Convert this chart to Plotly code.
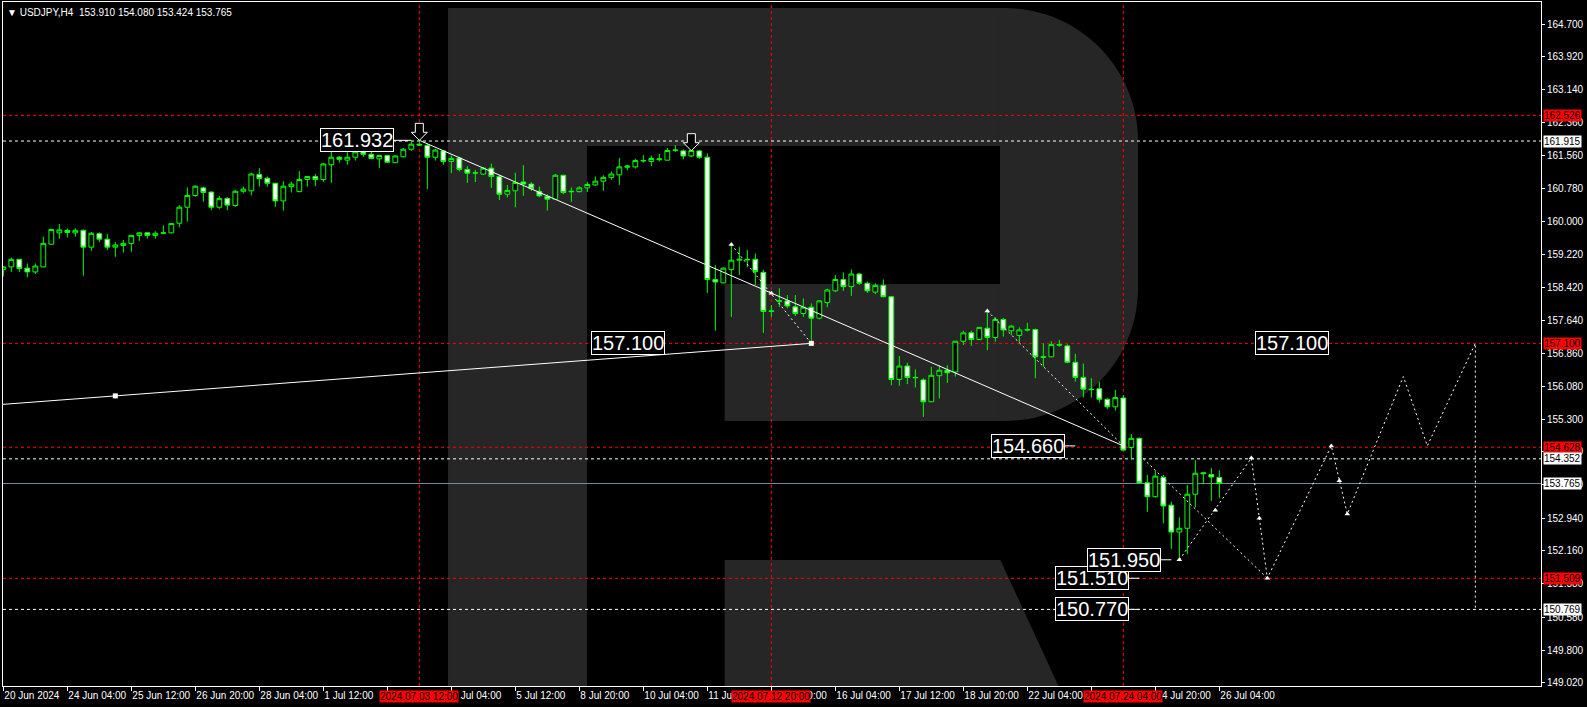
import plotly.graph_objects as go

# ---------------- DATA (USDJPY H4, bar 0 = 2024-06-20 20:00) ----------------
opens = [158.86,158.92,159.10,158.89,158.80,158.92,159.46,159.73,159.79,159.73,
         159.79,159.39,159.71,159.58,159.39,159.43,159.48,159.67,159.73,159.67,
         159.72,159.73,159.96,160.34,160.62,160.80,160.70,160.34,160.55,160.38,
         160.72,160.73,161.12,161.03,160.91,160.49,160.83,160.71,161.00,161.07,
         161.00,161.35,161.53,161.46,161.53,161.66,161.60,161.49,161.57,161.40,
         161.54,161.72,161.84,161.81,161.53,161.68,161.43,161.51,161.24,161.15,
         161.13,161.27,161.07,160.65,160.73,160.94,160.89,160.72,160.60,160.53,
         161.10,160.72,160.71,160.80,160.87,160.96,161.05,161.11,161.29,161.30,
         161.44,161.43,161.47,161.46,161.69,161.68,161.56,161.68,161.53,158.62,
         158.54,158.86,159.08,159.10,159.10,158.79,157.86,158.10,158.11,157.97,
         157.81,157.96,157.70,158.07,158.35,158.62,158.45,158.75,158.53,158.32,
         158.48,158.21,156.24,156.56,156.28,156.23,155.71,156.33,156.46,156.42,
         157.15,157.35,157.19,157.46,157.24,157.67,157.40,157.29,157.43,157.43,
         156.78,156.78,157.07,157.04,156.65,156.29,156.01,156.02,155.77,155.59,
         155.80,154.62,154.84,153.78,153.45,153.91,153.25,152.61,152.70,153.51,
         154.02,153.98,153.910]
highs = [158.94,159.14,159.11,159.00,159.00,159.64,159.83,159.94,159.83,159.84,
         159.81,159.75,159.74,159.70,159.51,159.56,159.68,159.75,159.75,159.77,
         159.91,159.96,160.39,160.81,160.86,160.83,160.72,160.61,160.58,160.75,
         160.83,161.16,161.27,161.07,160.92,160.96,160.95,161.20,161.08,161.13,
         161.40,161.72,161.56,161.65,161.74,161.74,161.68,161.59,161.59,161.57,
         161.75,161.90,161.932,161.84,161.73,161.70,161.57,161.54,161.32,161.23,
         161.29,161.38,161.11,160.87,161.16,161.34,160.94,160.83,160.65,161.13,
         161.11,160.81,160.84,160.94,161.07,161.10,161.19,161.51,161.35,161.49,
         161.58,161.57,161.61,161.75,161.82,161.72,161.72,161.70,161.62,158.96,
         158.91,159.48,159.39,159.32,159.24,158.85,158.01,158.41,158.25,158.25,
         158.17,158.05,158.13,158.40,158.73,158.79,158.86,158.78,158.57,158.53,
         158.62,158.23,156.80,156.64,156.48,156.27,156.54,156.58,156.58,157.16,
         157.40,157.40,157.49,157.85,157.72,157.70,157.54,157.48,157.59,157.45,
         157.10,157.15,157.18,157.08,156.85,156.62,156.27,156.19,155.79,155.99,
         155.87,154.94,154.86,153.97,154.07,153.97,153.33,152.96,153.73,154.32,
         154.03,154.13,154.080]
lows = [158.69,158.80,158.80,158.67,158.75,158.91,159.45,159.59,159.62,159.64,
        158.71,159.30,159.51,159.32,159.16,159.26,159.28,159.54,159.59,159.59,
        159.70,159.72,159.86,160.00,160.59,160.47,160.27,160.30,160.27,160.35,
        160.67,160.62,160.83,160.83,160.35,160.26,160.69,160.70,160.83,160.84,
        160.94,160.92,161.40,161.35,161.45,161.54,161.48,161.27,161.40,161.39,
        161.53,161.68,161.80,160.77,161.45,161.35,161.15,161.19,160.92,160.94,
        161.11,160.80,160.51,160.57,160.34,160.61,160.73,160.58,160.26,160.51,
        160.65,160.47,160.69,160.70,160.84,160.73,160.99,160.87,161.22,161.26,
        161.40,161.32,161.43,161.45,161.66,161.48,161.53,161.49,158.30,157.40,
        158.53,157.73,158.73,158.91,158.49,157.35,157.73,157.97,157.93,157.75,
        157.73,157.10,157.67,157.96,158.32,158.35,158.23,158.49,158.30,158.27,
        158.20,156.10,156.09,156.13,156.05,155.35,155.70,155.79,156.16,156.31,
        157.06,157.04,157.18,156.94,157.14,157.26,157.30,157.12,157.38,156.27,
        156.54,156.77,157.02,156.63,156.19,155.81,155.81,155.69,155.54,155.50,
        154.54,154.34,153.75,153.09,153.43,152.82,152.21,151.95,152.09,153.20,
        153.75,153.35,153.424]
closes = [158.92,159.10,158.88,158.80,158.94,159.48,159.81,159.80,159.74,159.79,
          159.39,159.72,159.58,159.39,159.44,159.48,159.67,159.73,159.67,159.72,
          159.73,159.95,160.34,160.62,160.84,160.69,160.34,160.55,160.39,160.72,
          160.77,161.13,161.02,160.91,160.49,160.84,160.89,161.00,161.07,161.00,
          161.37,161.53,161.48,161.53,161.66,161.60,161.50,161.57,161.41,161.56,
          161.72,161.84,161.82,161.53,161.70,161.43,161.50,161.24,161.15,161.16,
          161.27,161.07,160.65,160.74,160.93,160.89,160.78,160.61,160.53,161.10,
          160.69,160.71,160.80,160.88,160.96,161.05,161.13,161.30,161.32,161.45,
          161.45,161.50,161.49,161.69,161.70,161.56,161.69,161.53,158.62,158.56,
          158.89,159.08,159.10,159.09,158.81,157.86,157.87,158.11,157.99,157.81,
          157.96,157.70,158.11,158.37,158.62,158.45,158.75,158.53,158.35,158.48,
          158.21,156.24,156.56,156.29,156.29,155.71,156.34,156.46,156.40,157.15,
          157.35,157.19,157.48,157.24,157.67,157.42,157.51,157.42,157.42,156.78,
          156.77,157.07,157.06,156.65,156.29,156.01,156.00,155.77,155.59,155.81,
          154.56,154.84,153.78,153.45,153.94,153.23,152.61,152.70,153.51,154.01,
          154.00,153.92,153.765]
bars = list(range(len(opens)))

x_tick_bars = [0, 8, 16, 24, 32, 40, 48, 56, 64, 72, 80, 88, 96, 104, 112, 120, 128, 136, 144, 152]
x_tick_labels = ["20 Jun 2024", "24 Jun 04:00", "25 Jun 12:00", "26 Jun 20:00", "28 Jun 04:00",
                 "1 Jul 12:00", "2 Jul 20:00", "4 Jul 04:00", "5 Jul 12:00", "8 Jul 20:00",
                 "10 Jul 04:00", "11 Jul 12:00", "12 Jul 20:00", "16 Jul 04:00", "17 Jul 12:00",
                 "18 Jul 20:00", "22 Jul 04:00", "23 Jul 12:00", "24 Jul 20:00", "26 Jul 04:00"]
y_tick_vals = [164.700, 163.920, 163.140, 162.360, 161.560, 160.780, 160.000, 159.220, 158.420,
               157.640, 156.860, 156.080, 155.300, 154.520, 153.740, 152.940, 152.160, 151.380,
               150.580, 149.800, 149.020]

red_levels = [162.526, 157.100, 154.628, 151.509]
white_levels = [161.915, 154.352, 150.769]
bid_price = 153.765

vline_bars = [52, 96, 140]
vline_labels = ["2024.07.03 12:00", "2024.07.12 20:00", "2024.07.24 04:00"]

trend_main_x, trend_main_y = [52, 140], [161.932, 154.660]
ray_x, ray_y = [14, 101], [155.85, 157.10]
dot_a_x, dot_a_y = [91, 101], [159.45, 157.10]
dot_b_x, dot_b_y = [123, 140], [157.87, 154.66]
dot_c_x, dot_c_y = [142.5, 158], [154.352, 151.51]
zigzag_x = [147, 156, 158, 166, 168, 175, 178, 184, 184]
zigzag_y = [151.95, 154.37, 151.51, 154.66, 153.04, 156.31, 154.66, 157.10, 150.77]
marker_x = [91, 96, 123, 147, 151.5, 156, 157, 158, 166, 167, 168]
marker_y = [159.45, 158.29, 157.87, 151.95, 153.13, 154.37, 152.94, 151.51, 154.66, 153.83, 153.04]
arrow_bars = [52, 86]
arrow_prices = [161.932, 161.685]

box_texts = ["161.932", "157.100", "157.100", "154.660", "151.510", "150.770", "151.950"]
box_bars = [51, 78.1, 161.1, 134, 142, 142, 146]
box_prices = [161.932, 157.100, 157.100, 154.660, 151.510, 150.770, 151.950]
box_leader = [-54, None, None, -47, -47, -47, -47]

title_text = "▼ USDJPY,H4  153.910 154.080 153.424 153.765"

# ---------------- LAYOUT GEOMETRY ----------------
W, H = 1587, 707
PL, PR, PT, PB = 3, 1541, 2, 686
X0 = -0.041
X1 = X0 + (PR - PL) / 8.0
Y_TOP, Y_BOT = 165.2236, 148.946
GREEN = "#00FF00"
FONT = "Liberation Sans"


def ppx(x):
    return (x - PL) / (PR - PL)


def ppy(y):
    return (PB - y) / (PB - PT)


def pth(pts, closed=True):
    s = "M " + " L ".join(f"{ppx(x):.5f},{ppy(y):.5f}" for x, y in pts)
    return s + (" Z" if closed else "")


fig = go.Figure()

# candles
fig.add_trace(go.Candlestick(
    x=bars, open=opens, high=highs, low=lows, close=closes,
    increasing=dict(line=dict(color=GREEN, width=1), fillcolor="black"),
    decreasing=dict(line=dict(color=GREEN, width=1), fillcolor="white"),
    whiskerwidth=0, showlegend=False, hoverinfo="skip"))

# trend lines
slope = (ray_y[1] - ray_y[0]) / (ray_x[1] - ray_x[0])
ray_start_y = ray_y[0] + (X0 - ray_x[0]) * slope
fig.add_trace(go.Scatter(x=[X0] + ray_x, y=[ray_start_y] + ray_y, mode="lines",
                         line=dict(color="white", width=1), showlegend=False, hoverinfo="skip"))
fig.add_trace(go.Scatter(x=trend_main_x, y=trend_main_y, mode="lines",
                         line=dict(color="white", width=1), showlegend=False, hoverinfo="skip"))
for xs, ys in [(dot_a_x, dot_a_y), (dot_b_x, dot_b_y), (dot_c_x, dot_c_y), (zigzag_x, zigzag_y)]:
    fig.add_trace(go.Scatter(x=xs, y=ys, mode="lines",
                             line=dict(color="white", width=1, dash="2px,3px"),
                             showlegend=False, hoverinfo="skip"))
fig.add_trace(go.Scatter(x=marker_x, y=marker_y, mode="markers",
                         marker=dict(symbol="triangle-up", size=5, color="white"),
                         showlegend=False, hoverinfo="skip"))
fig.add_trace(go.Scatter(x=ray_x, y=ray_y, mode="markers",
                         marker=dict(symbol="square", size=5, color="white"),
                         showlegend=False, hoverinfo="skip"))

shapes = []
WM = "#262626"
# watermark "R"
shapes.append(dict(type="path", xref="paper", yref="paper", layer="below", fillcolor=WM, line=dict(width=0),
                   path=pth([(448, 8), (587, 8), (587, 686), (448, 686)])))
shapes.append(dict(type="path", xref="paper", yref="paper", layer="below", fillcolor=WM, line=dict(width=0),
                   path=pth([(586, 8), (1001, 8), (1001, 146), (586, 146)])))
shapes.append(dict(type="path", xref="paper", yref="paper", layer="below", fillcolor=WM, line=dict(width=0),
                   path=pth([(724.6, 284), (1001, 284), (1001, 421), (724.6, 421)])))
k = 0.5523 * 133
bowl = (f"M {ppx(1000):.5f},{ppy(8):.5f} L {ppx(1005):.5f},{ppy(8):.5f} "
        f"C {ppx(1005 + k):.5f},{ppy(8):.5f} {ppx(1138):.5f},{ppy(141 - k):.5f} {ppx(1138):.5f},{ppy(141):.5f} "
        f"L {ppx(1138):.5f},{ppy(288):.5f} "
        f"C {ppx(1138):.5f},{ppy(288 + k):.5f} {ppx(1005 + k):.5f},{ppy(421):.5f} {ppx(1005):.5f},{ppy(421):.5f} "
        f"L {ppx(1000):.5f},{ppy(421):.5f} Z")
shapes.append(dict(type="path", xref="paper", yref="paper", layer="below", fillcolor=WM, line=dict(width=0),
                   path=bowl))
shapes.append(dict(type="path", xref="paper", yref="paper", layer="below", fillcolor=WM, line=dict(width=0),
                   path=pth([(724.6, 560), (1000.4, 560), (1058.5, 686), (724.6, 686)])))

# horizontal levels
for lv in red_levels:
    shapes.append(dict(type="line", xref="paper", x0=0, x1=1, yref="y", y0=lv, y1=lv, layer="below",
                       line=dict(color="red", width=1, dash="3px,3px")))
for lv in white_levels:
    shapes.append(dict(type="line", xref="paper", x0=0, x1=1, yref="y", y0=lv, y1=lv, layer="below",
                       line=dict(color="white", width=1, dash="3px,3px")))
shapes.append(dict(type="line", xref="paper", x0=0, x1=1, yref="y", y0=bid_price, y1=bid_price, layer="below",
                   line=dict(color="#778899", width=1)))
# vertical lines
for b in vline_bars:
    shapes.append(dict(type="line", xref="x", x0=b, x1=b, yref="paper", y0=0, y1=1, layer="below",
                       line=dict(color="red", width=1, dash="3px,3px")))
# down arrows
for b, p in zip(arrow_bars, arrow_prices):
    shapes.append(dict(type="path", xref="x", yref="y", xsizemode="pixel", ysizemode="pixel",
                       xanchor=b, yanchor=p, layer="above", fillcolor="black",
                       line=dict(color="white", width=1),
                       path="M 0,0 L -8,8 L -4,8 L -4,17 L 4,17 L 4,8 L 8,8 Z"))

annotations = []
# title
annotations.append(dict(xref="paper", yref="paper", x=0, y=1, xanchor="left", yanchor="top",
                        xshift=2, yshift=-3, text=title_text, showarrow=False,
                        font=dict(family=FONT, size=10, color="white")))
# value boxes
for t, b, p, ld in zip(box_texts, box_bars, box_prices, box_leader):
    a = dict(xref="x", yref="y", x=b, y=p, text=t, font=dict(family=FONT, size=20, color="white"),
             bgcolor="black", bordercolor="white", borderwidth=1, borderpad=0)
    if ld is None:
        a.update(showarrow=False)
    else:
        a.update(showarrow=True, ax=ld, ay=0, arrowhead=0, arrowwidth=1, arrowcolor="white",
                 standoff=0, startstandoff=0)
    annotations.append(a)
# right-axis level boxes
for lv in red_levels:
    annotations.append(dict(xref="paper", yref="y", x=1, y=lv, xanchor="left", xshift=2,
                            text=f"{lv:.3f}", showarrow=False, bgcolor="red", borderpad=0,
                            font=dict(family=FONT, size=10, color="black")))
for lv in white_levels + [bid_price]:
    annotations.append(dict(xref="paper", yref="y", x=1, y=lv, xanchor="left", xshift=2,
                            text=f"{lv:.3f}", showarrow=False, bgcolor="white", borderpad=0,
                            font=dict(family=FONT, size=10, color="black")))
# bottom time boxes
for b, t in zip(vline_bars, vline_labels):
    annotations.append(dict(xref="x", yref="paper", x=b, y=0, yanchor="top", yshift=-4,
                            text=t, showarrow=False, bgcolor="red", borderpad=0,
                            font=dict(family=FONT, size=10, color="black")))

fig.update_layout(
    width=W, height=H,
    margin=dict(l=PL, r=W - PR, t=PT, b=H - PB, pad=0, autoexpand=False),
    paper_bgcolor="black", plot_bgcolor="black",
    showlegend=False, boxgap=0.25, boxgroupgap=0.2,
    shapes=shapes, annotations=annotations,
    xaxis=dict(range=[X0, X1], showgrid=False, zeroline=False, showline=True, linecolor="white",
               linewidth=1, mirror=True, ticks="outside", ticklen=4, tickcolor="white",
               tickvals=x_tick_bars, ticktext=x_tick_labels, ticklabelposition="outside right",
               tickangle=0, automargin=False,
               tickfont=dict(family=FONT, size=10, color="white"), rangeslider=dict(visible=False),
               fixedrange=True),
    yaxis=dict(range=[Y_BOT, Y_TOP], side="right", showgrid=False, zeroline=False, showline=True,
               linecolor="white", linewidth=1, mirror=True, ticks="outside", ticklen=3,
               tickcolor="white", tickvals=y_tick_vals, ticktext=[f"{v:.3f}" for v in y_tick_vals],
               automargin=False,
               tickfont=dict(family=FONT, size=10, color="white"), fixedrange=True),
)

fig.write_html("out.html", config={"displayModeBar": False},
               post_script="document.body.style.margin='0px';document.body.style.padding='0px';"
                           "document.body.style.overflow='hidden';document.body.style.background='black';")
